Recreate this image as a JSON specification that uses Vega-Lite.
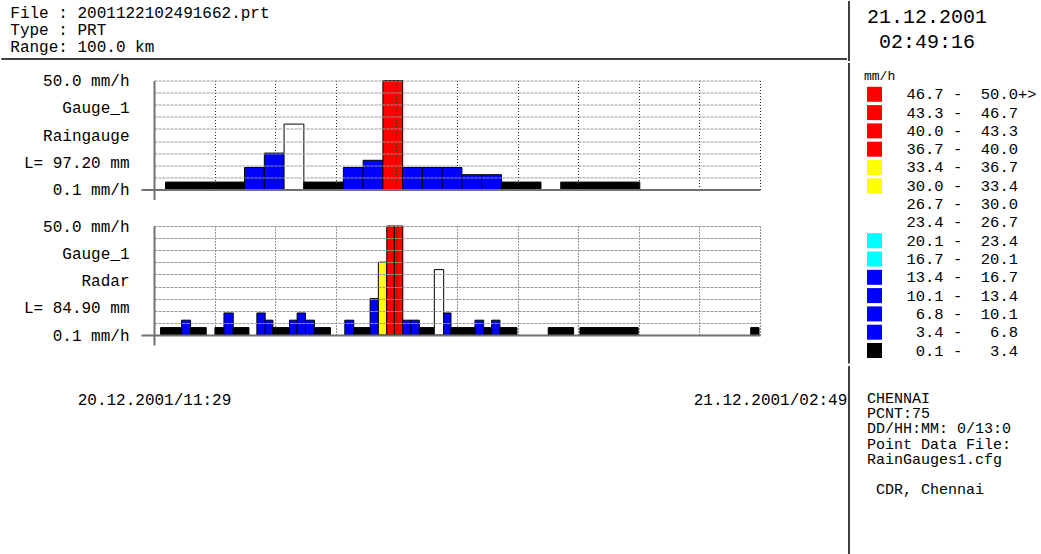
{
  "$schema": "https://vega.github.io/schema/vega-lite/v6.json",
  "padding": 0,
  "background": "white",
  "config": {"view": {"stroke": null}, "font": "Liberation Mono", "text": {"font": "Liberation Mono", "color": "black"}},
  "datasets": {
    "header": [
      {"line": 1, "text": "File : 2001122102491662.prt"},
      {"line": 2, "text": "Type : PRT"},
      {"line": 3, "text": "Range: 100.0 km"}
    ],
    "stamp": [
      {"line": 1, "text": "21.12.2001"},
      {"line": 2, "text": "02:49:16"}
    ],
    "unit": [{"row": 0, "label": "mm/h"}],
    "legend": [
      {"row": 1, "cls": "46.7-50.0", "label": "46.7\u00a0-\u00a0\u00a050.0", "more": "+>"},
      {"row": 2, "cls": "43.3-46.7", "label": "43.3\u00a0-\u00a0\u00a046.7", "more": ""},
      {"row": 3, "cls": "40.0-43.3", "label": "40.0\u00a0-\u00a0\u00a043.3", "more": ""},
      {"row": 4, "cls": "36.7-40.0", "label": "36.7\u00a0-\u00a0\u00a040.0", "more": ""},
      {"row": 5, "cls": "33.4-36.7", "label": "33.4\u00a0-\u00a0\u00a036.7", "more": ""},
      {"row": 6, "cls": "30.0-33.4", "label": "30.0\u00a0-\u00a0\u00a033.4", "more": ""},
      {"row": 7, "cls": "26.7-30.0", "label": "26.7\u00a0-\u00a0\u00a030.0", "more": ""},
      {"row": 8, "cls": "23.4-26.7", "label": "23.4\u00a0-\u00a0\u00a026.7", "more": ""},
      {"row": 9, "cls": "20.1-23.4", "label": "20.1\u00a0-\u00a0\u00a023.4", "more": ""},
      {"row": 10, "cls": "16.7-20.1", "label": "16.7\u00a0-\u00a0\u00a020.1", "more": ""},
      {"row": 11, "cls": "13.4-16.7", "label": "13.4\u00a0-\u00a0\u00a016.7", "more": ""},
      {"row": 12, "cls": "10.1-13.4", "label": "10.1\u00a0-\u00a0\u00a013.4", "more": ""},
      {"row": 13, "cls": "6.8-10.1", "label": "6.8\u00a0-\u00a0\u00a010.1", "more": ""},
      {"row": 14, "cls": "3.4-6.8", "label": "3.4\u00a0-\u00a0\u00a0\u00a06.8", "more": ""},
      {"row": 15, "cls": "0.1-3.4", "label": "0.1\u00a0-\u00a0\u00a0\u00a03.4", "more": ""}
    ],
    "info": [
      {"line": 0, "text": "CHENNAI"},
      {"line": 1, "text": "PCNT:75"},
      {"line": 2, "text": "DD/HH:MM: 0/13:0"},
      {"line": 3, "text": "Point Data File:"},
      {"line": 4, "text": "RainGauges1.cfg"}
    ],
    "credit": [
      {"line": 6, "text": "CDR, Chennai"}
    ],
    "frame": [{"part": "line"}],
    "gauge": [
      {"t0": 17.5, "t1": 47.5, "v": 3.4, "cls": "0.1-3.4"},
      {"t0": 47.5, "t1": 77.5, "v": 3.4, "cls": "0.1-3.4"},
      {"t0": 77.5, "t1": 107.5, "v": 3.4, "cls": "0.1-3.4"},
      {"t0": 107.5, "t1": 137.5, "v": 3.4, "cls": "0.1-3.4"},
      {"t0": 137.5, "t1": 167.5, "v": 10.1, "cls": "6.8-10.1"},
      {"t0": 167.5, "t1": 197.5, "v": 16.7, "cls": "13.4-16.7"},
      {"t0": 197.5, "t1": 227.5, "v": 30.0, "cls": "26.7-30.0"},
      {"t0": 227.5, "t1": 257.5, "v": 3.4, "cls": "0.1-3.4"},
      {"t0": 257.5, "t1": 287.5, "v": 3.4, "cls": "0.1-3.4"},
      {"t0": 287.5, "t1": 317.5, "v": 10.1, "cls": "6.8-10.1"},
      {"t0": 317.5, "t1": 347.5, "v": 13.4, "cls": "10.1-13.4"},
      {"t0": 347.5, "t1": 377.5, "v": 50.0, "cls": "46.7-50.0"},
      {"t0": 377.5, "t1": 407.5, "v": 10.1, "cls": "6.8-10.1"},
      {"t0": 407.5, "t1": 437.5, "v": 10.1, "cls": "6.8-10.1"},
      {"t0": 437.5, "t1": 467.5, "v": 10.1, "cls": "6.8-10.1"},
      {"t0": 467.5, "t1": 497.5, "v": 6.8, "cls": "3.4-6.8"},
      {"t0": 497.5, "t1": 527.5, "v": 6.8, "cls": "3.4-6.8"},
      {"t0": 527.5, "t1": 557.5, "v": 3.4, "cls": "0.1-3.4"},
      {"t0": 557.5, "t1": 587.5, "v": 3.4, "cls": "0.1-3.4"},
      {"t0": 617.5, "t1": 647.5, "v": 3.4, "cls": "0.1-3.4"},
      {"t0": 647.5, "t1": 677.5, "v": 3.4, "cls": "0.1-3.4"},
      {"t0": 677.5, "t1": 707.5, "v": 3.4, "cls": "0.1-3.4"},
      {"t0": 707.5, "t1": 737.5, "v": 3.4, "cls": "0.1-3.4"}
    ],
    "radar": [
      {"t0": 10.0, "t1": 41.9, "v": 3.4, "cls": "0.1-3.4"},
      {"t0": 41.9, "t1": 55.5, "v": 6.8, "cls": "3.4-6.8"},
      {"t0": 55.5, "t1": 79.3, "v": 3.4, "cls": "0.1-3.4"},
      {"t0": 92.5, "t1": 106.2, "v": 3.4, "cls": "0.1-3.4"},
      {"t0": 106.2, "t1": 120.3, "v": 10.1, "cls": "6.8-10.1"},
      {"t0": 120.3, "t1": 144.1, "v": 3.4, "cls": "0.1-3.4"},
      {"t0": 156.2, "t1": 168.8, "v": 10.1, "cls": "6.8-10.1"},
      {"t0": 168.8, "t1": 180.5, "v": 6.8, "cls": "3.4-6.8"},
      {"t0": 180.5, "t1": 205.7, "v": 3.4, "cls": "0.1-3.4"},
      {"t0": 205.7, "t1": 217.3, "v": 6.8, "cls": "3.4-6.8"},
      {"t0": 217.3, "t1": 229.9, "v": 10.1, "cls": "6.8-10.1"},
      {"t0": 229.9, "t1": 243.6, "v": 6.8, "cls": "3.4-6.8"},
      {"t0": 243.6, "t1": 267.8, "v": 3.4, "cls": "0.1-3.4"},
      {"t0": 289.7, "t1": 303.3, "v": 6.8, "cls": "3.4-6.8"},
      {"t0": 303.3, "t1": 328.1, "v": 3.4, "cls": "0.1-3.4"},
      {"t0": 328.1, "t1": 340.6, "v": 16.7, "cls": "13.4-16.7"},
      {"t0": 340.6, "t1": 353.4, "v": 33.4, "cls": "30.0-33.4"},
      {"t0": 353.4, "t1": 364.9, "v": 50.0, "cls": "46.7-50.0"},
      {"t0": 364.9, "t1": 377.7, "v": 50.0, "cls": "46.7-50.0"},
      {"t0": 377.7, "t1": 390.2, "v": 6.8, "cls": "3.4-6.8"},
      {"t0": 390.2, "t1": 402.8, "v": 6.8, "cls": "3.4-6.8"},
      {"t0": 402.8, "t1": 425.6, "v": 3.4, "cls": "0.1-3.4"},
      {"t0": 425.6, "t1": 439.8, "v": 30.0, "cls": "26.7-30.0"},
      {"t0": 439.8, "t1": 450.9, "v": 10.1, "cls": "6.8-10.1"},
      {"t0": 450.9, "t1": 487.3, "v": 3.4, "cls": "0.1-3.4"},
      {"t0": 487.3, "t1": 500.5, "v": 6.8, "cls": "3.4-6.8"},
      {"t0": 500.5, "t1": 512.6, "v": 3.4, "cls": "0.1-3.4"},
      {"t0": 512.6, "t1": 525.2, "v": 6.8, "cls": "3.4-6.8"},
      {"t0": 525.2, "t1": 551.0, "v": 3.4, "cls": "0.1-3.4"},
      {"t0": 598.5, "t1": 637.0, "v": 3.4, "cls": "0.1-3.4"},
      {"t0": 646.6, "t1": 735.0, "v": 3.4, "cls": "0.1-3.4"},
      {"t0": 905.9, "t1": 918.5, "v": 3.4, "cls": "0.1-3.4"}
    ]
  },
  "spacing": 0,
  "hconcat": [
    {
      "spacing": 12.5,
      "vconcat": [
        {
          "width": 693,
          "height": 58,
          "layer": [
            {
              "data": {"name": "header"},
              "mark": {"type": "text", "align": "left", "baseline": "middle", "fontSize": 16, "dx": 9},
              "encoding": {
                "x": {"datum": -0.22035, "type": "quantitative", "scale": {"domain": [0, 1], "nice": false, "zero": false}, "axis": null},
                "y": {"field": "line", "type": "ordinal", "scale": {"type": "point", "padding": 0.706}, "axis": null},
                "text": {"field": "text"}
              }
            },
            {
              "data": {"name": "frame"},
              "mark": {"type": "rule", "color": "black", "strokeWidth": 1.5},
              "encoding": {
                "x": {"datum": -0.22035, "type": "quantitative"},
                "x2": {"datum": 1},
                "y": {"value": "height"}
              }
            }
          ]
        },
        {
          "spacing": 17.5,
          "vconcat": [
            {
              "width": 606,
              "height": 109,
              "data": {"name": "gauge"},
              "mark": {"type": "bar", "stroke": "black", "strokeWidth": 1},
              "encoding": {
                "x": {"field": "t0", "type": "quantitative", "scale": {"domain": [0, 920], "nice": false, "zero": false},
                      "axis": {"values": [0, 92, 184, 276, 368, 460, 552, 644, 736, 828, 920], "title": null, "labels": false,
                               "domain": true, "domainColor": "#707070", "domainWidth": 2,
                               "ticks": true, "tickSize": 10, "tickColor": "#707070", "tickWidth": 2,
                               "tickOpacity": {"condition": {"test": "datum.value == 0", "value": 1}, "value": 0},
                               "grid": true, "gridColor": "#222222", "gridDash": [1, 2], "gridWidth": 1, "zindex": 1}},
                "x2": {"field": "t1"},
                "y": {"field": "v", "type": "quantitative", "scale": {"domain": [0, 50], "nice": false},
                      "axis": {"values": [0, 5.5556, 11.1111, 12.5, 16.6667, 22.2222, 25, 27.7778, 33.3333, 37.5, 38.8889, 44.4444, 50],
                               "title": null, "minExtent": 152.7,
                               "domain": true, "domainColor": "#707070", "domainWidth": 2,
                               "ticks": true, "tickSize": 13, "tickColor": "#707070", "tickWidth": 2,
                               "tickOpacity": {"condition": {"test": "datum.value == 0", "value": 1}, "value": 0},
                               "grid": true, "gridColor": "#999999", "gridDash": [3, 1], "gridWidth": 1,
                               "gridOpacity": {"condition": {"test": "datum.value == 0 || datum.value == 12.5 || datum.value == 25 || datum.value == 37.5", "value": 0}, "value": 1},
                               "labelExpr": "datum.value == 50 ? '50.0 mm/h' : datum.value == 37.5 ? 'Gauge_1' : datum.value == 25 ? 'Raingauge' : datum.value == 12.5 ? 'L= 97.20 mm' : datum.value == 0 ? '0.1 mm/h' : ''",
                               "labelFont": "Liberation Mono", "labelFontSize": 16, "labelColor": "black", "labelPadding": 12,
                               "labelFlush": false, "labelOverlap": false, "labelBaseline": "middle", "zindex": 1}},
                "y2": {"datum": 0},
                "color": {"field": "cls", "type": "nominal", "legend": null,
                          "scale": {"domain": ["46.7-50.0", "43.3-46.7", "40.0-43.3", "36.7-40.0", "33.4-36.7", "30.0-33.4", "26.7-30.0", "23.4-26.7", "20.1-23.4", "16.7-20.1", "13.4-16.7", "10.1-13.4", "6.8-10.1", "3.4-6.8", "0.1-3.4"],
                                    "range": ["#ff0000", "#ff0000", "#ff0000", "#ff0000", "#ffff00", "#ffff00", "#ffffff", "#ffffff", "#00ffff", "#00ffff", "#0000ff", "#0000ff", "#0000ff", "#0000ff", "#000000"]}}
              }
            },
            {
              "width": 606,
              "height": 109,
              "data": {"name": "radar"},
              "mark": {"type": "bar", "stroke": "black", "strokeWidth": 1},
              "encoding": {
                "x": {"field": "t0", "type": "quantitative", "scale": {"domain": [0, 920], "nice": false, "zero": false},
                      "axis": {"values": [0, 92, 184, 276, 368, 460, 552, 644, 736, 828, 920], "title": null,
                               "labelExpr": "datum.value == 0 ? '20.12.2001/11:29' : datum.value == 920 ? '21.12.2001/02:49' : ''",
                               "labelFont": "Liberation Mono", "labelFontSize": 16, "labelColor": "black", "labelPadding": 46.5,
                               "labelFlush": false, "labelOverlap": false, "labelBaseline": "top",
                               "labelOffset": {"condition": {"test": "datum.value == 920", "value": 10}, "value": 0},
                               "domain": true, "domainColor": "#707070", "domainWidth": 2,
                               "ticks": true, "tickSize": 10, "tickColor": "#707070", "tickWidth": 2,
                               "tickOpacity": {"condition": {"test": "datum.value == 0", "value": 1}, "value": 0},
                               "grid": true, "gridColor": "#222222", "gridDash": [1, 2], "gridWidth": 1, "zindex": 1}},
                "x2": {"field": "t1"},
                "y": {"field": "v", "type": "quantitative", "scale": {"domain": [0, 50], "nice": false},
                      "axis": {"values": [0, 5.5556, 11.1111, 12.5, 16.6667, 22.2222, 25, 27.7778, 33.3333, 37.5, 38.8889, 44.4444, 50],
                               "title": null, "minExtent": 152.7,
                               "domain": true, "domainColor": "#707070", "domainWidth": 2,
                               "ticks": true, "tickSize": 13, "tickColor": "#707070", "tickWidth": 2,
                               "tickOpacity": {"condition": {"test": "datum.value == 0", "value": 1}, "value": 0},
                               "grid": true, "gridColor": "#999999", "gridDash": [3, 1], "gridWidth": 1,
                               "gridOpacity": {"condition": {"test": "datum.value == 0 || datum.value == 12.5 || datum.value == 25 || datum.value == 37.5", "value": 0}, "value": 1},
                               "labelExpr": "datum.value == 50 ? '50.0 mm/h' : datum.value == 37.5 ? 'Gauge_1' : datum.value == 25 ? 'Radar' : datum.value == 12.5 ? 'L= 84.90 mm' : datum.value == 0 ? '0.1 mm/h' : ''",
                               "labelFont": "Liberation Mono", "labelFontSize": 16, "labelColor": "black", "labelPadding": 12,
                               "labelFlush": false, "labelOverlap": false, "labelBaseline": "middle", "zindex": 1}},
                "y2": {"datum": 0},
                "color": {"field": "cls", "type": "nominal", "legend": null,
                          "scale": {"domain": ["46.7-50.0", "43.3-46.7", "40.0-43.3", "36.7-40.0", "33.4-36.7", "30.0-33.4", "26.7-30.0", "23.4-26.7", "20.1-23.4", "16.7-20.1", "13.4-16.7", "10.1-13.4", "6.8-10.1", "3.4-6.8", "0.1-3.4"],
                                    "range": ["#ff0000", "#ff0000", "#ff0000", "#ff0000", "#ffff00", "#ffff00", "#ffffff", "#ffffff", "#00ffff", "#00ffff", "#0000ff", "#0000ff", "#0000ff", "#0000ff", "#000000"]}}
              }
            }
          ]
        }
      ]
    },
    {
      "spacing": 0,
      "vconcat": [
        {
          "width": 192,
          "height": 60,
          "layer": [
            {
              "data": {"name": "stamp"},
              "mark": {"type": "text", "align": "center", "baseline": "middle", "fontSize": 20},
              "encoding": {
                "x": {"value": 78},
                "y": {"field": "line", "type": "quantitative", "scale": {"domain": [0.38, 2.78], "reverse": true, "nice": false, "zero": false}, "axis": null},
                "text": {"field": "text"}
              }
            },
            {
              "data": {"name": "frame"},
              "mark": {"type": "rule", "color": "black", "strokeWidth": 1.5},
              "encoding": {"x": {"value": 0}, "y": {"value": 0}, "y2": {"value": "height"}}
            }
          ]
        },
        {
          "width": 192,
          "height": 300.5,
          "layer": [
            {
              "data": {"name": "legend"},
              "mark": {"type": "rect"},
              "encoding": {
                "y": {"field": "row", "type": "ordinal",
                      "scale": {"type": "band", "domain": [0, 1, 2, 3, 4, 5, 6, 7, 8, 9, 10, 11, 12, 13, 14, 15], "paddingInner": 0.18, "paddingOuter": 0.3},
                      "axis": null},
                "x": {"value": 18},
                "x2": {"value": 33},
                "color": {"field": "cls", "type": "nominal", "legend": null,
                          "scale": {"domain": ["46.7-50.0", "43.3-46.7", "40.0-43.3", "36.7-40.0", "33.4-36.7", "30.0-33.4", "26.7-30.0", "23.4-26.7", "20.1-23.4", "16.7-20.1", "13.4-16.7", "10.1-13.4", "6.8-10.1", "3.4-6.8", "0.1-3.4"],
                                    "range": ["#ff0000", "#ff0000", "#ff0000", "#ff0000", "#ffff00", "#ffff00", "#ffffff", "#ffffff", "#00ffff", "#00ffff", "#0000ff", "#0000ff", "#0000ff", "#0000ff", "#000000"]}}
              }
            },
            {
              "data": {"name": "legend"},
              "mark": {"type": "text", "align": "right", "baseline": "middle", "fontSize": 15.5},
              "encoding": {"y": {"field": "row", "type": "ordinal"}, "x": {"value": 169}, "text": {"field": "label"}}
            },
            {
              "data": {"name": "legend"},
              "mark": {"type": "text", "align": "left", "baseline": "middle", "fontSize": 15.5},
              "encoding": {"y": {"field": "row", "type": "ordinal"}, "x": {"value": 169}, "text": {"field": "more"}}
            },
            {
              "data": {"name": "unit"},
              "mark": {"type": "text", "align": "left", "baseline": "middle", "fontSize": 13},
              "encoding": {"y": {"field": "row", "type": "ordinal"}, "x": {"value": 15}, "text": {"field": "label"}}
            },
            {
              "data": {"name": "frame"},
              "mark": {"type": "rule", "color": "black", "strokeWidth": 1.5},
              "encoding": {"x": {"value": 0}, "y": {"value": 0}, "y2": {"value": "height"}}
            }
          ]
        },
        {
          "width": 192,
          "height": 190.5,
          "encoding": {
            "y": {"field": "line", "type": "quantitative", "scale": {"domain": [-2.1, 10.43], "reverse": true, "nice": false, "zero": false}, "axis": null}
          },
          "layer": [
            {
              "data": {"name": "info"},
              "mark": {"type": "text", "align": "left", "baseline": "middle", "fontSize": 15},
              "encoding": {"x": {"value": 18}, "text": {"field": "text"}}
            },
            {
              "data": {"name": "credit"},
              "mark": {"type": "text", "align": "left", "baseline": "middle", "fontSize": 15},
              "encoding": {"x": {"value": 27}, "text": {"field": "text"}}
            },
            {
              "data": {"name": "frame"},
              "mark": {"type": "rule", "color": "black", "strokeWidth": 1.5},
              "encoding": {"x": {"value": 0}, "y": {"value": 0}, "y2": {"value": "height"}}
            }
          ]
        }
      ]
    }
  ]
}
